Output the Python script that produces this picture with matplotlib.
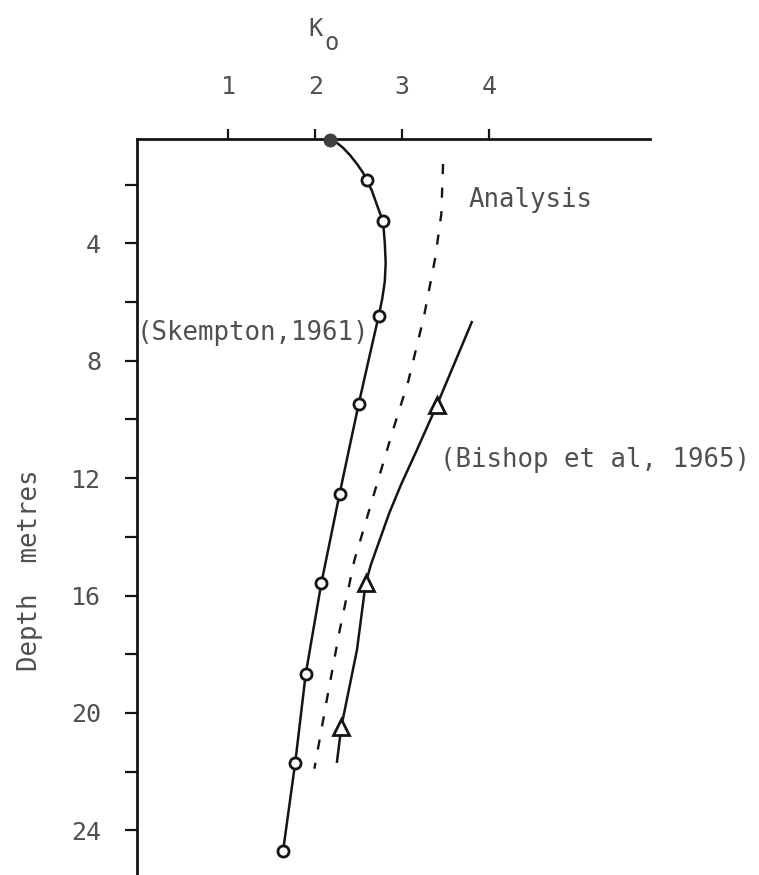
import matplotlib
matplotlib.use('Agg')
import matplotlib.pyplot as plt

plt.rcParams['font.family'] = 'DejaVu Sans Mono'

# Skempton (1961) measured points, K_o vs depth (m)
skempton_k = [2.17, 2.59, 2.78, 2.73, 2.50, 2.28, 2.07, 1.89, 1.77, 1.63]
skempton_depth = [0.47, 1.86, 3.26, 6.47, 9.47, 12.54, 15.58, 18.68, 21.69, 24.70]

# traced smooth curve through the Skempton points
skempton_line_k = [2.17, 2.24, 2.32, 2.40, 2.48, 2.55, 2.59, 2.65, 2.71, 2.78,
                   2.80, 2.81, 2.80, 2.77, 2.73, 2.62, 2.50, 2.39, 2.28, 2.07,
                   1.89, 1.77, 1.63]
skempton_line_depth = [0.47, 0.56, 0.75, 1.0, 1.3, 1.6, 1.86, 2.2, 2.7, 3.26,
                       4.0, 4.67, 5.3, 5.9, 6.47, 7.9, 9.47, 11.0, 12.54, 15.58,
                       18.68, 21.69, 24.70]

# Bishop et al (1965)
bishop_k = [3.40, 2.58, 2.30]
bishop_depth = [9.51, 15.58, 20.47]
bishop_line_k = [3.80, 3.40, 3.16, 2.99, 2.85, 2.73, 2.64, 2.58, 2.48, 2.30, 2.25]
bishop_line_depth = [6.69, 9.51, 11.1, 12.2, 13.2, 14.2, 14.95, 15.58, 17.85, 20.47, 21.66]

# analysis (dashed)
analysis_k = [3.47, 3.45, 3.38, 3.25, 3.07, 2.88, 2.68, 2.45, 2.28, 2.13, 1.99]
analysis_depth = [1.3, 3.0, 4.5, 6.5, 8.7, 10.5, 12.5, 14.8, 17.2, 19.6, 21.9]

x_ticks = [1, 2, 3, 4]
y_ticks = [2, 4, 6, 8, 10, 12, 14, 16, 18, 20, 22, 24]
y_labels = ['', '4', '', '8', '', '12', '', '16', '', '20', '', '24']

W, H = 759, 875
fig = plt.figure(figsize=(W / 100, H / 100), dpi=100)
ax = fig.add_axes([137 / W, 0, 513 / W, (H - 139) / H])

ink = '#151515'
txt = '#505050'

ax.plot(skempton_line_k, skempton_line_depth, color=ink, lw=1.8, zorder=2,
        solid_joinstyle='round')
ax.plot(skempton_k[1:], skempton_depth[1:], 'o', ms=8, mfc='white', mec=ink,
        mew=2.0, zorder=3, clip_on=False)
ax.plot(skempton_k[:1], skempton_depth[:1], 'o', ms=9, color='#404040',
        zorder=4, clip_on=False)

ax.plot(bishop_line_k, bishop_line_depth, color=ink, lw=1.8, zorder=2,
        solid_joinstyle='round')
ax.plot(bishop_k, bishop_depth, '^', ms=12, mfc='white', mec=ink, mew=2.0, zorder=3)

dash, = ax.plot(analysis_k, analysis_depth, color=ink, lw=1.7, zorder=2)
dash.set_dashes([4.3, 5.7])

ax.set_xlim(-0.05, 5.85)
ax.set_ylim(25.52, 0.45)

for s in ['right', 'bottom']:
    ax.spines[s].set_visible(False)
for s in ['top', 'left']:
    ax.spines[s].set_linewidth(2.0)
    ax.spines[s].set_color(ink)

ax.xaxis.tick_top()
ax.set_xticks(x_ticks)
ax.set_xticklabels([str(v) for v in x_ticks])
ax.tick_params(axis='x', direction='out', length=7, width=1.6, color=ink,
               pad=22, labelsize=18, labelcolor=txt)
ax.set_yticks(y_ticks)
ax.set_yticklabels(y_labels)
ax.tick_params(axis='y', direction='out', length=9, width=1.6, color=ink,
               pad=17, labelsize=18, labelcolor=txt)

ax.text(3.76, 2.52, 'Analysis', fontsize=18.5, color=txt, va='center', ha='left')
ax.text(-0.05, 7.05, '(Skempton,1961)', fontsize=18.5, color=txt, va='center',
        ha='left', zorder=5)
ax.text(3.44, 11.38, '(Bishop et al, 1965)', fontsize=18.5, color=txt,
        va='center', ha='left')

fig.text(316 / W, 1 - 29 / H, 'K', fontsize=17, color=txt, ha='center', va='center')
fig.text(331 / W, 1 - 43 / H, 'o', fontsize=17, color=txt, ha='center', va='center')
fig.text(30 / W, 1 - 570 / H, 'Depth  metres', fontsize=18.5, color=txt,
         rotation=90, ha='center', va='center')

fig.savefig('out.png', dpi=100)
